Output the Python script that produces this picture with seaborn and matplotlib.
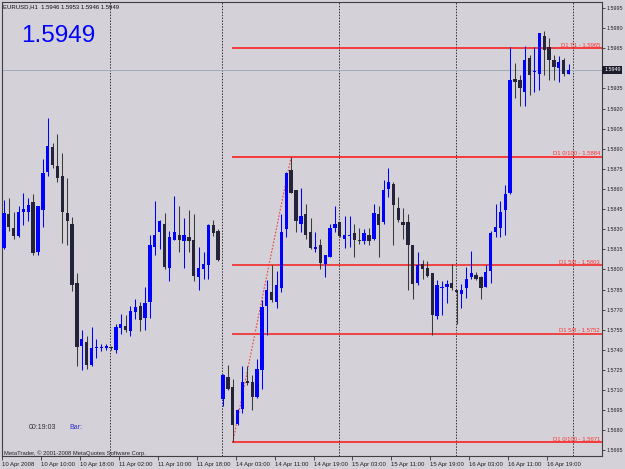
import numpy as np
import pandas as pd
import matplotlib
matplotlib.use('Agg')
import matplotlib.pyplot as plt
import matplotlib.transforms as mtransforms
import seaborn as sns

# EURUSD H1 bars, 10 Apr 2008 02:00 .. 16 Apr 2008 23:00
opens = [1.5816, 1.5841, 1.5831, 1.5825, 1.5843, 1.5843, 1.5850, 1.5813, 1.5844, 1.5873,
         1.5891, 1.5877, 1.5870, 1.5842, 1.5834, 1.5790, 1.5743, 1.5746, 1.5729, 1.5741,
         1.5741, 1.5741, 1.5742, 1.5740, 1.5756, 1.5758, 1.5754, 1.5768, 1.5773, 1.5764,
         1.5776, 1.5817, 1.5828, 1.5834, 1.5801, 1.5822, 1.5826, 1.5821, 1.5824, 1.5822,
         1.5794, 1.5800, 1.5803, 1.5833, 1.5829,
         1.5703, 1.5720, 1.5712, 1.5685, 1.5696, 1.5717, 1.5716, 1.5705, 1.5725, 1.5773,
         1.5783, 1.5776, 1.5786, 1.5830, 1.5874, 1.5859, 1.5834, 1.5841, 1.5828, 1.5815,
         1.5818, 1.5804, 1.5809, 1.5831, 1.5835, 1.5823, 1.5825, 1.5827, 1.5822, 1.5821,
         1.5826, 1.5823, 1.5841, 1.5835, 1.5860, 1.5864, 1.5846, 1.5835, 1.5835, 1.5818,
         1.5790, 1.5804, 1.5801, 1.5797, 1.5765, 1.5786, 1.5787, 1.5790, 1.5785, 1.5782,
         1.5786, 1.5794, 1.5796, 1.5794, 1.5787, 1.5799, 1.5828, 1.5831, 1.5844, 1.5857,
         1.5942, 1.5941, 1.5932, 1.5958, 1.5947, 1.5946, 1.5974, 1.5966, 1.5956, 1.5950,
         1.5956, 1.5946]
highs = [1.5852, 1.5853, 1.5843, 1.5847, 1.5857, 1.5853, 1.5856, 1.5847, 1.5882, 1.5913,
         1.5894, 1.5901, 1.5887, 1.5868, 1.5839, 1.5797, 1.5755, 1.5750, 1.5757, 1.5748,
         1.5744, 1.5744, 1.5743, 1.5759, 1.5767, 1.5766, 1.5773, 1.5778, 1.5776, 1.5787,
         1.5826, 1.5851, 1.5837, 1.5842, 1.5829, 1.5855, 1.5847, 1.5838, 1.5844, 1.5841,
         1.5817, 1.5813, 1.5834, 1.5837, 1.5830,
         1.5722, 1.5729, 1.5718, 1.5696, 1.5728, 1.5728, 1.5721, 1.5733, 1.5777, 1.5792,
         1.5803, 1.5799, 1.5841, 1.5873, 1.5884, 1.5859, 1.5861, 1.5849, 1.5838, 1.5828,
         1.5823, 1.5811, 1.5834, 1.5847, 1.5835, 1.5840, 1.5840, 1.5834, 1.5831, 1.5830,
         1.5831, 1.5849, 1.5847, 1.5867, 1.5876, 1.5865, 1.5854, 1.5846, 1.5841, 1.5818,
         1.5813, 1.5807, 1.5806, 1.5797, 1.5792, 1.5791, 1.5792, 1.5804, 1.5785, 1.5789,
         1.5802, 1.5814, 1.5798, 1.5795, 1.5803, 1.5829, 1.5849, 1.5851, 1.5863, 1.5966,
         1.5954, 1.5945, 1.5967, 1.5960, 1.5966, 1.5976, 1.5978, 1.5973, 1.5960, 1.5959,
         1.5958, 1.5953]
lows = [1.5815, 1.5829, 1.5823, 1.5824, 1.5833, 1.5836, 1.5811, 1.5811, 1.5832, 1.5870,
        1.5876, 1.5865, 1.5820, 1.5818, 1.5784, 1.5728, 1.5725, 1.5726, 1.5728, 1.5734,
        1.5739, 1.5740, 1.5740, 1.5738, 1.5752, 1.5753, 1.5750, 1.5763, 1.5754, 1.5755,
        1.5764, 1.5811, 1.5815, 1.5800, 1.5791, 1.5822, 1.5813, 1.5801, 1.5813, 1.5791,
        1.5785, 1.5793, 1.5793, 1.5825, 1.5806,
        1.5698, 1.5710, 1.5671, 1.5684, 1.5693, 1.5714, 1.5695, 1.5704, 1.5711, 1.5751,
        1.5776, 1.5771, 1.5783, 1.5824, 1.5857, 1.5828, 1.5828, 1.5823, 1.5815, 1.5813,
        1.5800, 1.5794, 1.5809, 1.5828, 1.5824, 1.5816, 1.5817, 1.5809, 1.5819, 1.5819,
        1.5818, 1.5822, 1.5809, 1.5834, 1.5854, 1.5818, 1.5835, 1.5823, 1.5785, 1.5778,
        1.5788, 1.5793, 1.5794, 1.5751, 1.5763, 1.5766, 1.5775, 1.5785, 1.5759, 1.5771,
        1.5779, 1.5793, 1.5792, 1.5778, 1.5787, 1.5790, 1.5824, 1.5824, 1.5826, 1.5856,
        1.5928, 1.5922, 1.5922, 1.5930, 1.5932, 1.5934, 1.5945, 1.5941, 1.5941, 1.5940,
        1.5944, 1.5946]
closes = [1.5842, 1.5832, 1.5825, 1.5843, 1.5845, 1.5848, 1.5812, 1.5847, 1.5872, 1.5892,
          1.5878, 1.5868, 1.5843, 1.5836, 1.5788, 1.5742, 1.5748, 1.5729, 1.5741, 1.5742,
          1.5742, 1.5743, 1.5741, 1.5757, 1.5759, 1.5755, 1.5769, 1.5772, 1.5762, 1.5775,
          1.5818, 1.5826, 1.5836, 1.5802, 1.5824, 1.5828, 1.5822, 1.5826, 1.5821, 1.5795,
          1.5801, 1.5804, 1.5833, 1.5827, 1.5807,
          1.5721, 1.5711, 1.5684, 1.5695, 1.5716, 1.5715, 1.5705, 1.5726, 1.5772, 1.5785,
          1.5777, 1.5788, 1.5828, 1.5872, 1.5857, 1.5836, 1.5840, 1.5826, 1.5816, 1.5817,
          1.5805, 1.5811, 1.5831, 1.5834, 1.5825, 1.5826, 1.5826, 1.5822, 1.5821, 1.5827,
          1.5821, 1.5842, 1.5833, 1.5859, 1.5865, 1.5848, 1.5837, 1.5833, 1.5818, 1.5789,
          1.5803, 1.5800, 1.5795, 1.5766, 1.5788, 1.5787, 1.5789, 1.5786, 1.5783, 1.5785,
          1.5793, 1.5797, 1.5793, 1.5786, 1.5798, 1.5827, 1.5832, 1.5843, 1.5856, 1.5941,
          1.5940, 1.5935, 1.5956, 1.5945, 1.5948, 1.5976, 1.5964, 1.5956, 1.5951, 1.5955,
          1.5946, 1.5949]

# time axis
tick_bars = [0, 8, 16, 24, 32, 40, 48, 56, 64, 72, 80, 88, 96, 104, 112]
tick_labels = ['10 Apr 2008', '10 Apr 10:00', '10 Apr 18:00', '11 Apr 02:00', '11 Apr 10:00',
               '11 Apr 18:00', '14 Apr 03:00', '14 Apr 11:00', '14 Apr 19:00', '15 Apr 03:00',
               '15 Apr 11:00', '15 Apr 19:00', '16 Apr 03:00', '16 Apr 11:00', '16 Apr 19:00']
day_start_bars = [22, 45, 69, 93, 117]

# price axis
price_ticks = [1.5995, 1.5980, 1.5965, 1.5935, 1.5920, 1.5905, 1.5890, 1.5875, 1.5860,
               1.5845, 1.5830, 1.5815, 1.5800, 1.5785, 1.5770, 1.5755, 1.5740, 1.5725,
               1.5710, 1.5695, 1.5680, 1.5665]
last_price = 1.5949
header = 'EURUSD,H1  1.5946 1.5953 1.5946 1.5949'

# D1 fibo levels
fib_levels = [1.5965, 1.5884, 1.5803, 1.5752, 1.5671]
fib_names = ['D1 T1 - 1.5965', 'D1 0/100 - 1.5884', 'D1 5/8 - 1.5803',
             'D1 5/8 - 1.5752', 'D1 0/100 - 1.5671']
fib_start_bar = 47
fib_end_bar = 59

sns.set_theme(style='white')
plt.rcParams['font.family'] = ['Liberation Sans', 'DejaVu Sans']

bg = '#D4D2D8'
bull = '#0000FF'
bear = '#25233A'
bear_wick = '#3A3A3A'
fib_red = '#FF1010'

df = pd.DataFrame({'open': opens, 'high': highs, 'low': lows, 'close': closes})
df['bar'] = np.arange(len(df))
df['up'] = df['close'] >= df['open']
df['body_lo'] = df[['open', 'close']].min(axis=1)
df['body_h'] = (df['close'] - df['open']).abs().clip(lower=0.00006)

fig = plt.figure(figsize=(6.25, 4.69), dpi=100, facecolor=bg)
ax = fig.add_axes([2 / 625, 13 / 469, 600 / 625, 454 / 469], facecolor=bg)

x_left, x_right = -0.2, 122.87
ax.set_xlim(x_left, x_right)
ax.set_ylim(1.56608, 1.59995)

# day separators
for b in day_start_bars:
    ax.axvline(b - 0.15, color='#303030', lw=0.7, ls=(0, (1.5, 1.5)), zorder=1)

# current price line
ax.axhline(last_price, color='#9AAAB8', lw=0.7, zorder=1)

# fibo levels
mixed = mtransforms.blended_transform_factory(ax.transAxes, ax.transData)
for lvl, name in zip(fib_levels, fib_names):
    lw = 1.3 if '5/8' in name else 1.1
    col = '#F03838' if '5/8' in name else fib_red
    ax.hlines(lvl, fib_start_bar - 0.1, x_right, color=col, lw=lw, zorder=2)
    ax.text(0.9967, lvl + 0.00004, name, transform=mixed,
            ha='right', va='bottom', fontsize=4.2, color='#FF3030', zorder=5)

sns.lineplot(x=[fib_start_bar, fib_end_bar], y=[lows[fib_start_bar], highs[fib_end_bar]],
             ax=ax, color='#F04040', lw=0.8, linestyle=(0, (1.5, 1.5)),
             estimator=None, sort=False, legend=False, zorder=3)

# candles
wick_cols = [bull if u else bear_wick for u in df['up']]
body_cols = [bull if u else bear for u in df['up']]
ax.vlines(df['bar'], df['low'], df['high'], colors=wick_cols, lw=0.75, zorder=3)
ax.bar(df['bar'], df['body_h'], bottom=df['body_lo'], width=0.68, color=body_cols,
       linewidth=0, zorder=4)

# axes styling
ax.yaxis.tick_right()
ax.set_yticks(price_ticks)
ax.set_yticklabels([f'{p:.4f}' for p in price_ticks])
ax.tick_params(axis='y', direction='out', length=2.2, width=0.6, color='#303030',
               labelsize=3.9, pad=1.0, labelcolor='#202020', right=True, left=False)
ax.set_xticks([b - 0.4 for b in tick_bars])
ax.set_xticklabels(tick_labels)
for lbl in ax.get_xticklabels():
    lbl.set_ha('left')
ax.tick_params(axis='x', direction='out', length=3, width=0.6, color='#303030',
               labelsize=4.3, pad=1.5, labelcolor='#202020', bottom=True)
for sp in ax.spines.values():
    sp.set_visible(True)
    sp.set_color('#404040')
    sp.set_linewidth(0.8)
ax.grid(False)

# price box on the scale
ax.text(1.0035, last_price, f'{last_price:.4f}', transform=mixed,
        ha='left', va='center', fontsize=3.9, color='white', clip_on=False, zorder=6,
        bbox=dict(boxstyle='square,pad=0.3', fc='#1C1C2C', ec='none'))

# overlay texts
fig.text(3 / 625, 1 - 8.3 / 469, header, fontsize=4.3, color='#101010', va='baseline')
fig.text(21 / 625, 1 - 41.7 / 469, '1.5949', fontsize=17.5, color='#0000FF', va='baseline')
fig.text(29 / 625, 1 - 429 / 469, '00:19:03', fontsize=5, color='#303030', va='baseline')
fig.text(69 / 625, 1 - 429 / 469, 'Bar:', fontsize=5, color='#3030C8', va='baseline')
fig.text(4 / 625, 1 - 454.5 / 469, 'MetaTrader, \u00a9 2001-2008 MetaQuotes Software Corp.',
         fontsize=4.2, color='#202020', va='baseline')

fig.savefig('out.png', dpi=100, facecolor=bg)
